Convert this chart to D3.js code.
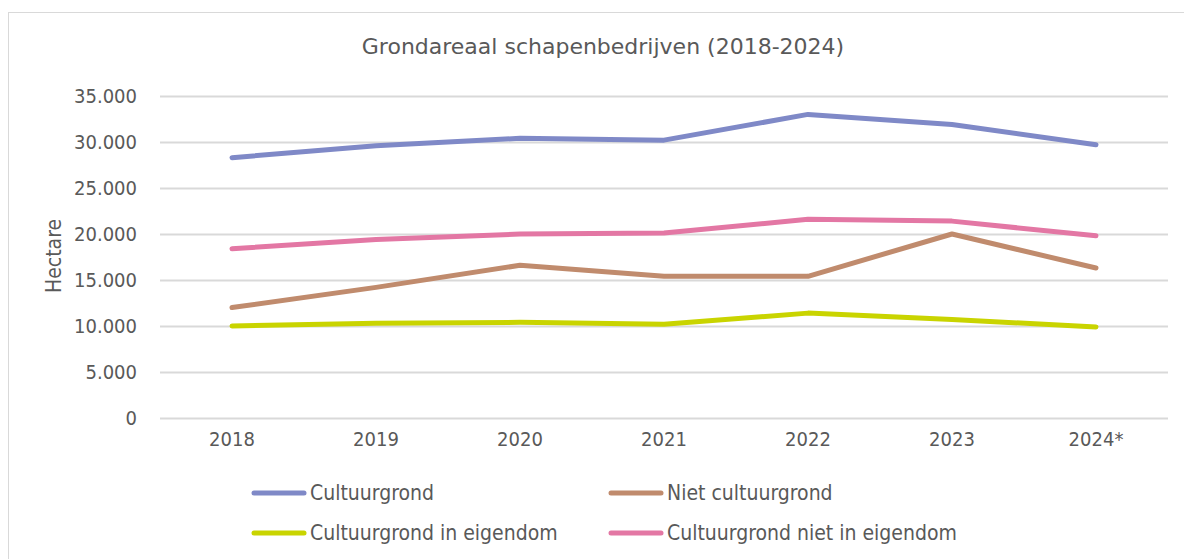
<!DOCTYPE html>
<html>
<head>
<meta charset="utf-8">
<script src="https://cdn.jsdelivr.net/npm/d3@7"></script>
<style>
  body { margin: 0; background: #fff; }
  text { font-family: "DejaVu Sans Condensed", "DejaVu Sans", sans-serif; fill: #595959; }
</style>
</head>
<body>
<div id="chart"></div>
<script>
// data (hectare)
const years = ["2018", "2019", "2020", "2021", "2022", "2023", "2024*"];
const cultuurgrond = [28300, 29600, 30400, 30200, 33000, 31900, 29700];
const nietCultuurgrond = [12000, 14200, 16600, 15400, 15400, 20000, 16300];
const inEigendom = [10000, 10300, 10400, 10200, 11400, 10700, 9900];
const nietInEigendom = [18400, 19400, 20000, 20100, 21600, 21400, 19800];
const yTicks = [0, 5000, 10000, 15000, 20000, 25000, 30000, 35000];

const series = [
  { name: "Cultuurgrond", values: cultuurgrond, color: "#7f89c7" },
  { name: "Niet cultuurgrond", values: nietCultuurgrond, color: "#c08b6d" },
  { name: "Cultuurgrond in eigendom", values: inEigendom, color: "#c9d400" },
  { name: "Cultuurgrond niet in eigendom", values: nietInEigendom, color: "#e377a4" }
];

const W = 1184, H = 559;
const plot = { left: 160, right: 1168, top: 96, bottom: 418 };

const svg = d3.select("#chart").append("svg")
  .attr("width", W)
  .attr("height", H);

// chart frame (right and bottom edges fall outside the picture)
svg.append("rect")
  .attr("x", 8.5).attr("y", 12.5)
  .attr("width", W + 10).attr("height", H + 10)
  .attr("fill", "none")
  .attr("stroke", "#d9d9d9");

const x = d3.scaleBand()
  .domain(years)
  .range([plot.left, plot.right]);

const y = d3.scaleLinear()
  .domain([0, 35000])
  .range([plot.bottom, plot.top]);

// title
svg.append("text")
  .attr("x", 603).attr("y", 54)
  .attr("text-anchor", "middle")
  .style("font-family", "\"DejaVu Sans\", sans-serif")
  .style("font-size", "22px")
  .text("Grondareaal schapenbedrijven (2018-2024)");

// gridlines + y labels (Dutch number format: 35.000)
const fmt = d3.formatLocale({ decimal: ",", thousands: ".", grouping: [3], currency: ["€", ""] }).format(",d");
const yAxis = svg.append("g")
  .attr("transform", `translate(${plot.left},0)`)
  .call(d3.axisLeft(y).tickValues(yTicks).tickFormat(fmt)
    .tickSize(-(plot.right - plot.left)).tickPadding(23));
yAxis.select(".domain").remove();
yAxis.selectAll(".tick line").attr("stroke", "#d9d9d9").attr("stroke-width", 2);
yAxis.selectAll(".tick text")
  .style("font-size", "20px")
  .style("font-family", "\"DejaVu Sans Condensed\", sans-serif")
  .attr("fill", "#595959");

// x labels
const xAxis = svg.append("g")
  .attr("transform", `translate(0,${plot.bottom})`)
  .call(d3.axisBottom(x).tickSize(0).tickPadding(14));
xAxis.select(".domain").remove();
xAxis.selectAll(".tick text")
  .style("font-size", "20px")
  .style("font-family", "\"DejaVu Sans Condensed\", sans-serif")
  .attr("fill", "#595959");

// y axis title
svg.append("text")
  .attr("transform", `translate(61,256) rotate(-90)`)
  .attr("text-anchor", "middle")
  .style("font-size", "21px")
  .text("Hectare");

// lines
const line = d3.line()
  .x((d, i) => x(years[i]) + x.bandwidth() / 2)
  .y(d => y(d));

svg.append("g").selectAll("path")
  .data(series)
  .join("path")
  .attr("d", d => line(d.values))
  .attr("fill", "none")
  .attr("stroke", d => d.color)
  .attr("stroke-width", 5)
  .attr("stroke-linecap", "round")
  .attr("stroke-linejoin", "round");

// legend, 2 columns
const legendPos = [[252, 493], [609, 493], [252, 533], [609, 533]];
const legend = svg.append("g").selectAll("g")
  .data(series)
  .join("g")
  .attr("transform", (d, i) => `translate(${legendPos[i][0]},${legendPos[i][1]})`);

legend.append("line")
  .attr("x1", 2).attr("x2", 52)
  .attr("stroke", d => d.color)
  .attr("stroke-width", 5)
  .attr("stroke-linecap", "round");

legend.append("text")
  .attr("x", 58).attr("y", 7)
  .style("font-size", "21px")
  .text(d => d.name);
</script>
</body>
</html>
